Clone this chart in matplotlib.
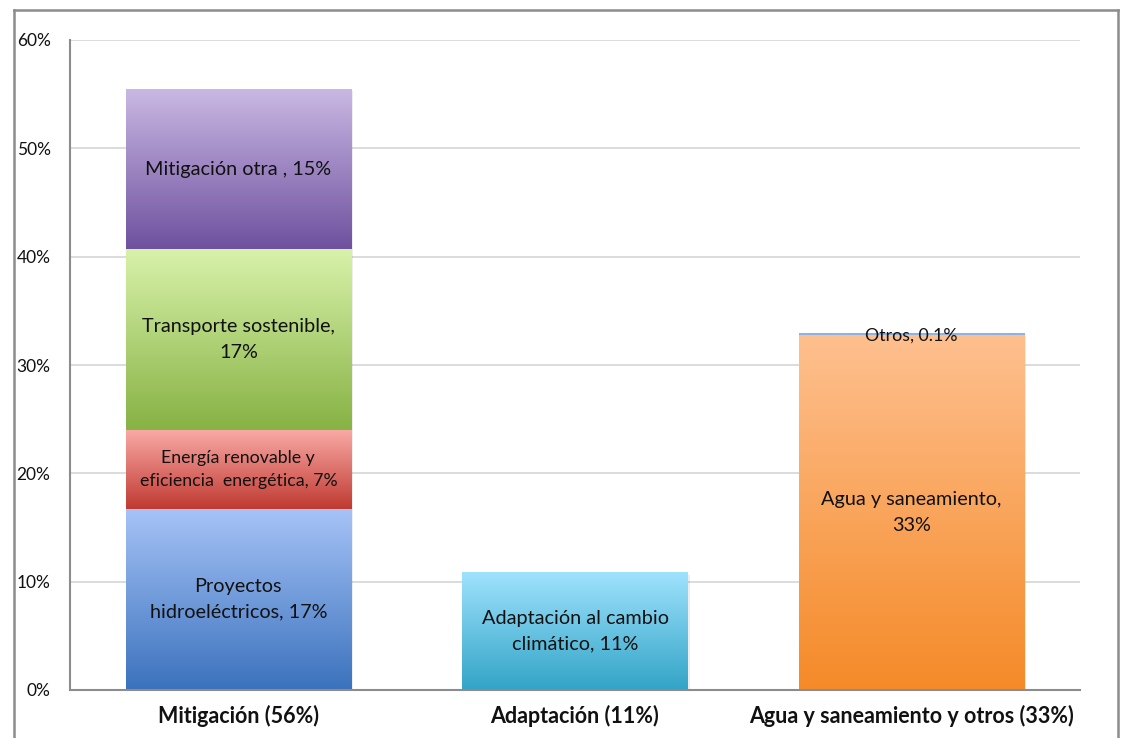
import numpy as np
import matplotlib
matplotlib.use("Agg")
import matplotlib.pyplot as plt
from matplotlib.lines import Line2D
from matplotlib.colors import LinearSegmentedColormap

plt.rcParams['font.family'] = ['Lato', 'DejaVu Sans']

categories = ["Mitigación (56%)", "Adaptación (11%)", "Agua y saneamiento y otros (33%)"]

# segments: (category index, value, label, top colour, bottom colour)
seg_cat = [0, 0, 0, 0, 1, 2, 2]
seg_val = [16.7, 7.3, 16.7, 14.7, 10.8, 32.8, 0.1]
seg_lab = ["Proyectos\nhidroeléctricos, 17%",
           "Energía renovable y\neficiencia  energética, 7%",
           "Transporte sostenible,\n17%",
           "Mitigación otra , 15%",
           "Adaptación al cambio\nclimático, 11%",
           "Agua y saneamiento,\n33%",
           "Otros, 0.1%"]
seg_top = ["#a6c3f7", "#fbaaa6", "#d8f2aa", "#c9b8e3", "#9fe2fd", "#fec08f", "#8db3e2"]
seg_bot = ["#3b72bd", "#bf3a31", "#87b244", "#6f519f", "#32a4c7", "#f58a28", "#8db3e2"]
seg_fs = [14.3, 12.8, 14.3, 14.3, 14.3, 14.3, 12.8]

yticks = [0, 10, 20, 30, 40, 50, 60]

fig = plt.figure(figsize=(11.24, 7.38), dpi=100)
ax = fig.add_axes([70/1124, 1-690/738, 1010/1124, 650/738])
ax.set_xlim(-0.5, 2.5)
ax.set_ylim(0, 60)

width = 0.67
bottoms = [0.0, 0.0, 0.0]
grad = np.linspace(0, 1, 256).reshape(-1, 1)
for c, v, lab, ct, cb, fs in zip(seg_cat, seg_val, seg_lab, seg_top, seg_bot, seg_fs):
    b = bottoms[c]
    x0 = c - width/2
    # subtle shadow
    ax.bar(c + 0.006, v, width=width, bottom=b - 0.15, color="#00000012", zorder=2, linewidth=0)
    cmap = LinearSegmentedColormap.from_list("g", [cb, ct])
    ax.imshow(grad, cmap=cmap, extent=[x0, x0 + width, b, b + v], origin="lower",
              aspect="auto", zorder=3, interpolation="bicubic")
    if v < 1:
        ax.text(c, b + v - 0.2, lab, ha="center", va="center", fontsize=fs, zorder=5, color="#111111")
    else:
        ax.text(c, b + v/2, lab, ha="center", va="center", fontsize=fs, zorder=5,
                color="#111111", linespacing=1.6 if fs > 13 else 1.5)
    bottoms[c] = b + v

ax.set_xlim(-0.5, 2.5)
ax.set_ylim(0, 60)
ax.set_yticks(yticks)
ax.set_yticklabels([f"{t}%" for t in yticks], fontsize=12.5, color="#111111")
ax.set_xticks(range(len(categories)))
ax.set_xticklabels(categories, fontsize=15.5, fontweight="bold", color="#111111")
ax.tick_params(axis="y", length=0, pad=14)
ax.tick_params(axis="x", length=0, pad=11)
ax.yaxis.grid(True, color="#d9d9d9", linewidth=1.3, zorder=0)
ax.set_axisbelow(True)
for s in ["top", "right"]:
    ax.spines[s].set_visible(False)
for s in ["left", "bottom"]:
    ax.spines[s].set_color("#8c8c8c")
    ax.spines[s].set_linewidth(1.5)
    ax.spines[s].set_zorder(6)

# outer chart frame
W, H = 1124, 738
fc = "#8c8c8c"
fig.add_artist(Line2D([14/W, 14/W], [0, 1-10/H], color=fc, lw=1.8, transform=fig.transFigure))
fig.add_artist(Line2D([14/W, 1118/W], [1-10/H, 1-10/H], color=fc, lw=1.8, transform=fig.transFigure))
fig.add_artist(Line2D([1118/W, 1118/W], [0, 1-10/H], color=fc, lw=1.8, transform=fig.transFigure))

fig.savefig("out.png", dpi=100)
